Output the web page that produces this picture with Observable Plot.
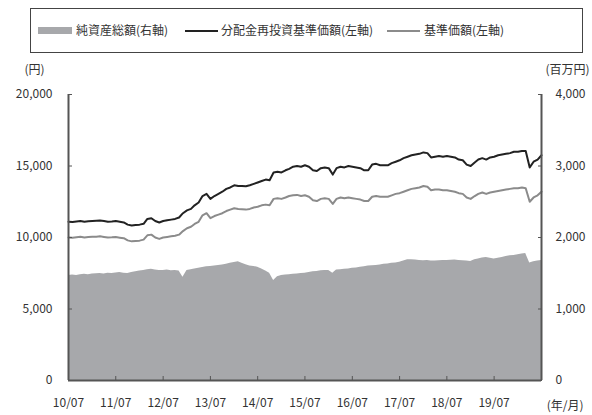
<!DOCTYPE html>
<html>
<head>
<meta charset="utf-8">
<script src="https://cdn.jsdelivr.net/npm/d3@7"></script>
<script src="https://cdn.jsdelivr.net/npm/@observablehq/plot@0.6"></script>
<style>
  html, body { margin: 0; padding: 0; background: #fff; }
  #wrap { width: 592px; position: relative; font-family: "Liberation Sans Narrow", "Noto Sans CJK JP", sans-serif; color: #333; }
  #legend { position: relative; width: 592px; height: 56px; }
  #legend .box { position: absolute; left: 30px; top: 8px; width: 551px; height: 43px; border: 1.5px solid #444; }
  #legend .sw { position: absolute; }
  #legend .lb { position: absolute; top: 21px; font-family: "Noto Sans CJK JP", sans-serif; font-size: 12px; line-height: 18px; color: #333; white-space: nowrap; }
</style>
</head>
<body>
<div id="wrap">
  <div id="legend"></div>
  <div id="chart"></div>
</div>
<script>
// ---- data (monthly, starting 2010/07) ----
const startYear = 2010, startMonth = 7;
const seriesNames = ["純資産総額(右軸)", "分配金再投資基準価額(左軸)", "基準価額(左軸)"];
// 純資産総額 (百万円, right axis)
const netAssets = [1470,1475,1468,1480,1485,1478,1490,1492,1495,1490,1500,1498,
  1505,1510,1500,1495,1510,1520,1530,1540,1550,1555,1545,1540,
  1540,1545,1535,1540,1530,1445,1540,1550,1560,1570,1580,1590,
  1595,1600,1610,1615,1625,1640,1650,1660,1640,1620,1600,1595,
  1585,1560,1530,1500,1400,1450,1470,1475,1480,1485,1490,1495,
  1500,1510,1520,1525,1535,1540,1540,1500,1545,1550,1555,1560,
  1570,1575,1585,1590,1600,1605,1610,1615,1625,1630,1640,1645,
  1655,1670,1690,1690,1685,1680,1675,1678,1670,1672,1675,1680,
  1680,1682,1685,1680,1675,1670,1665,1690,1700,1715,1720,1710,
  1700,1710,1720,1735,1745,1750,1760,1770,1775,1645,1660,1670,1680];
// 分配金再投資基準価額 (円, left axis)
const navReinvested = [11100,11080,11120,11150,11100,11130,11150,11170,11190,11150,11100,11120,
  11150,11100,11050,10900,10840,10880,10900,10960,11300,11350,11150,11050,
  11150,11200,11250,11300,11400,11700,11900,12000,12250,12450,12900,13050,
  12700,12900,13050,13200,13400,13500,13650,13600,13600,13580,13650,13750,
  13850,13950,14050,14000,14550,14600,14550,14700,14800,14950,15000,14950,
  15050,14950,14700,14650,14850,14900,14850,14400,14850,14950,14900,15000,
  14950,14900,14850,14700,14700,15100,15150,15050,15050,15050,15200,15300,
  15400,15550,15650,15750,15800,15850,15950,15900,15600,15650,15700,15650,
  15700,15650,15600,15450,15400,15100,15000,15250,15450,15550,15450,15600,
  15650,15750,15800,15850,15900,16000,16000,16050,16050,14900,15300,15450,15750];
// 基準価額 (円, left axis)
const nav = [10000,9980,10020,10050,10000,10030,10050,10060,10080,10040,10000,10010,
  10030,9990,9950,9800,9730,9760,9780,9850,10150,10200,10000,9900,
  10000,10040,10080,10120,10200,10450,10650,10750,10950,11100,11550,11700,
  11350,11500,11600,11700,11850,11950,12050,12000,11980,11950,12000,12100,
  12150,12250,12300,12250,12700,12750,12700,12800,12900,12950,12980,12900,
  12950,12850,12600,12550,12700,12750,12700,12350,12700,12800,12750,12800,
  12750,12700,12650,12550,12550,12850,12900,12850,12850,12850,12950,13050,
  13100,13200,13300,13400,13450,13500,13600,13550,13300,13350,13350,13300,
  13300,13250,13200,13100,13050,12800,12700,12900,13050,13150,13050,13150,
  13200,13250,13300,13350,13400,13450,13450,13500,13450,12500,12800,12950,13200];
const xTickLabels = ["10/07","11/07","12/07","13/07","14/07","15/07","16/07","17/07","18/07","19/07"];
const leftTicks = [0, 5000, 10000, 15000, 20000];
const rightTicks = [0, 1000, 2000, 3000, 4000];
const leftMax = 20000, rightMax = 4000;

// ---- build table ----
const ratio = leftMax / rightMax;
const d0 = new Date(Date.UTC(startYear, startMonth - 1, 1));
const data = netAssets.map((a, i) => ({
  date: d3.utcMonth.offset(d0, i),
  assets: a, reinv: navReinvested[i], nav: nav[i]
}));
const d1 = data[data.length - 1].date;
const xTicks = xTickLabels.map(s => { const [yy, mm] = s.split("/"); return new Date(Date.UTC(2000 + +yy, +mm - 1, 1)); });

const colors = { area: "#a7a8ab", reinv: "#222", nav: "#8b8b8b", axis: "#555" };
const labelFont = "'Liberation Sans Narrow', 'Noto Sans CJK JP', sans-serif";

// ---- legend ----
const lg = document.getElementById("legend");
lg.innerHTML = `<div class="box"></div>
 <div class="sw" style="left:38px;top:27px;width:34px;height:7px;background:${colors.area}"></div>
 <div class="lb" style="left:76px">${seriesNames[0]}</div>
 <div class="sw" style="left:185px;top:30px;width:33px;height:2px;background:${colors.reinv}"></div>
 <div class="lb" style="left:221px">${seriesNames[1]}</div>
 <div class="sw" style="left:387px;top:30px;width:33px;height:2px;background:${colors.nav}"></div>
 <div class="lb" style="left:424px">${seriesNames[2]}</div>`;

// ---- chart ----
const chart = Plot.plot({
  width: 592, height: 359,
  marginTop: 38, marginBottom: 35, marginLeft: 68, marginRight: 51,
  style: { fontFamily: labelFont, fontSize: "12px", color: "#333", background: "#fff" },
  x: { type: "utc", domain: [d0, d1] },
  y: { domain: [0, leftMax] },
  marks: [
    Plot.areaY(data, { x: "date", y: d => d.assets * ratio, fill: colors.area }),
    Plot.lineY(data, { x: "date", y: "nav", stroke: colors.nav, strokeWidth: 2 }),
    Plot.lineY(data, { x: "date", y: "reinv", stroke: colors.reinv, strokeWidth: 2 }),
    Plot.ruleX([d0, d1], { stroke: colors.axis, strokeWidth: 2 }),
    Plot.ruleY([0], { stroke: colors.axis, strokeWidth: 2 }),
    Plot.axisY(leftTicks, { anchor: "left", tickSize: -4, tickPadding: 20, tickFormat: d3.format(","), label: null, stroke: colors.axis }),
    Plot.axisY(rightTicks.map(v => v * ratio), { anchor: "right", tickSize: -4, tickPadding: 18, tickFormat: d => d3.format(",")(d / ratio), label: null, stroke: colors.axis }),
    Plot.axisX(xTicks, { anchor: "bottom", tickSize: -4, tickPadding: 22, tickFormat: d3.utcFormat("%y/%m"), label: null, stroke: colors.axis }),
    Plot.text(["(円)"], { frameAnchor: "top-left", dx: -44, dy: -29, fontFamily: "'Noto Sans CJK JP', sans-serif", fontSize: 12, fill: "#333" }),
    Plot.text(["(百万円)"], { frameAnchor: "top-right", dx: 48, dy: -29, fontFamily: "'Noto Sans CJK JP', sans-serif", fontSize: 12, fill: "#333" }),
    Plot.text(["(年/月)"], { frameAnchor: "bottom-right", dx: 42, dy: 29, fontFamily: "'Noto Sans CJK JP', sans-serif", fontSize: 12, fill: "#333" })
  ]
});
document.getElementById("chart").appendChild(chart);
</script>
</body>
</html>
